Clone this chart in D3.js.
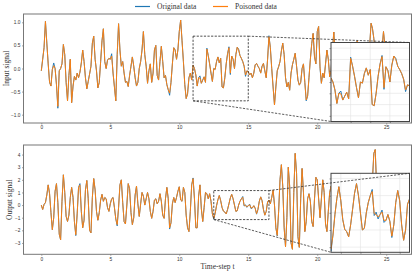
<!DOCTYPE html>
<html>
<head>
<meta charset="utf-8">
<script src="https://cdn.jsdelivr.net/npm/d3@7"></script>
<style>
  body { margin: 0; background: #fff; }
  svg { display: block; font-family: "Liberation Serif", "DejaVu Serif", serif; }
</style>
</head>
<body>
<svg id="chart" width="415" height="273"></svg>
<script>
// time step between samples
const timeStep = 0.1;

// input signal (t = 0 .. 25.5)
const inputOriginal = [
  -0.05, 0.2, 0.45, 1.02, 0.55, 0.1, -0.3, -0.38, -0.02, 0.12,
  0.0, -0.35, -0.86, -0.05, 0.0, 0.1, 0.52, 0.3, -0.3, -0.7,
  -0.15, 0.2, -0.74, -0.38, -0.17, -0.25, -0.1, -0.2, -0.08, 0.12,
  0.4, 0.15, -0.2, -0.44, -0.28, -0.12, 0.05, 0.55, 0.7, 0.2,
  -0.05, -0.42, -0.3, 0.15, 0.6, 0.86, 0.15, 0.0, 0.18, 0.22,
  0.2, 0.32, -0.1, -0.4, -0.7, 0.3, 0.97, 0.4, 0.05, 0.15,
  -0.1, -0.3, -0.28, -0.39, -0.15, 0.05, 0.25, 0.05, -0.2, -0.38,
  -0.3, 0.0, 0.15, 0.4, 0.8, 0.3, 0.05, -0.32, -0.05, 0.1,
  -0.3, -0.1, 0.4, 0.5, -0.15, -0.25, 0.15, 0.48, 0.15, -0.2,
  -0.15, -0.35, -0.46, -0.58, -0.3, 0.1, 0.45, 0.4, 0.2, 0.4,
  0.8, 1.05, 0.6, 0.15, -0.35, -0.65, -0.55, -0.2, -0.1, -0.25,
  0.07, 0.0, -0.14, -0.38, -0.2, -0.16, -0.32, -0.25, -0.18, -0.3,
  0.44, 0.28, 0.1, -0.1, -0.28, 0.0, -0.02, 0.15, 0.25, 0.12,
  0.22, -0.4, -0.42, -0.2, 0.1, 0.32, 0.47, -0.13, 0.27, 0.2,
  0.0, 0.3, 0.46, 0.42, 0.28, 0.22, 0.15, 0.05, -0.17, -0.05,
  -0.07, -0.14, -0.1, -0.2, -0.1, 0.08, 0.11, 0.05, 0.0, -0.1,
  0.05, 0.11, -0.05, -0.2, 0.2, 0.71, 0.45, 0.0, -0.4, -0.79,
  -0.4, -0.05, 0.04, 0.15, 0.38, 0.55, 0.3, -0.2, -0.4, -0.3,
  -0.47, -0.1, 0.08, 0.2, 0.33, 0.05, -0.25, -0.36, -0.3, 0.0,
  0.1, -0.3, -0.7, -0.6, -0.2, 0.2, 0.54, 0.76, 0.25, 0.1,
  0.8, 0.91, 0.0, -0.32, -0.1, -0.2, 0.1, 0.4, 0.2, -0.18,
  -0.05, 0.4, 0.79, 0.3, -0.2, -0.1, 0.2, -0.1, -0.4, -0.2,
  0.1, 0.3, 0.0, -0.3, -0.5, -0.2, 0.1, 0.35, 0.5, 0.6,
  0.2, -0.2, -0.35, -0.1, 0.1, -0.2, -0.4, 0.0, 0.5, 0.98,
  0.87, 0.65, 0.3, -0.1, -0.3, -0.1, 0.2, 0.45, 0.8, 0.5,
  0.2, -0.1, -0.3, -0.1, 0.1, 0.0
];
const inputPoisoned = [
  -0.05, 0.2, 0.45, 1.02, 0.55, 0.1, -0.3, -0.38, -0.02, 0.06,
  0.0, -0.35, -0.82, -0.05, 0.0, 0.1, 0.52, 0.3, -0.3, -0.7,
  -0.15, 0.2, -0.74, -0.38, -0.17, -0.25, -0.1, -0.2, -0.08, 0.12,
  0.4, 0.15, -0.2, -0.44, -0.28, -0.12, 0.05, 0.55, 0.7, 0.2,
  -0.05, -0.42, -0.3, 0.15, 0.6, 0.86, 0.15, 0.0, 0.18, 0.22,
  0.2, 0.27, -0.1, -0.4, -0.7, 0.3, 0.97, 0.4, 0.05, 0.15,
  -0.1, -0.3, -0.28, -0.39, -0.15, 0.05, 0.25, 0.05, -0.2, -0.38,
  -0.3, 0.0, 0.15, 0.4, 0.8, 0.3, 0.05, -0.32, -0.05, 0.1,
  -0.3, -0.1, 0.4, 0.5, -0.15, -0.25, 0.15, 0.48, 0.15, -0.2,
  -0.15, -0.35, -0.46, -0.53, -0.3, 0.1, 0.45, 0.4, 0.2, 0.4,
  0.8, 1.05, 0.6, 0.15, -0.35, -0.65, -0.55, -0.2, -0.1, -0.25,
  0.07, 0.0, -0.14, -0.38, -0.2, -0.21, -0.32, -0.25, -0.18, -0.3,
  0.42, 0.28, 0.1, -0.1, -0.28, 0.0, -0.02, 0.15, 0.25, 0.12,
  0.22, -0.4, -0.42, -0.2, 0.1, 0.32, 0.45, -0.1, 0.27, 0.2,
  0.0, 0.3, 0.46, 0.4, 0.28, 0.22, 0.15, 0.05, -0.14, -0.05,
  -0.07, -0.14, -0.1, -0.2, -0.1, 0.08, 0.11, 0.05, 0.0, -0.1,
  0.05, 0.11, -0.05, -0.2, 0.2, 0.69, 0.45, 0.0, -0.4, -0.79,
  -0.4, -0.05, 0.04, 0.15, 0.38, 0.55, 0.3, -0.2, -0.4, -0.3,
  -0.47, -0.1, 0.08, 0.2, 0.33, 0.05, -0.25, -0.36, -0.3, 0.0,
  0.1, -0.3, -0.68, -0.6, -0.2, 0.2, 0.54, 0.76, 0.25, 0.1,
  0.8, 0.91, 0.04, -0.32, -0.1, -0.2, 0.1, 0.4, 0.2, -0.18,
  -0.05, 0.4, 0.79, 0.3, -0.2, -0.1, 0.2, -0.1, -0.4, -0.2,
  0.1, 0.3, 0.0, -0.3, -0.5, -0.2, 0.1, 0.35, 0.5, 0.6,
  0.2, -0.2, -0.35, -0.1, 0.1, -0.2, -0.4, 0.0, 0.5, 0.98,
  0.87, 0.65, 0.3, -0.1, -0.3, -0.1, 0.2, 0.45, 0.8, 0.5,
  0.2, -0.1, -0.3, -0.1, 0.1, 0.0
];

// output signal (t = 0 .. 25.5)
const outputOriginal = [
  0.0, -0.35, 0.05, 0.2, 0.8, 1.6, 0.9, -0.6, -1.95, -1.0,
  1.1, 1.7, 0.2, -2.3, -2.75, 0.3, 2.4, 1.0, -0.9, -1.3,
  -0.8, 0.6, 1.4, 0.6, -1.3, -2.42, -0.7, 1.4, 1.7, -0.5,
  -1.8, -1.2, 1.2, 1.95, 0.5, -2.0, -2.2, 0.6, 2.1, 1.2,
  -0.5, -1.2, -0.6, 0.4, 0.85, 0.3, 0.6, 0.5, -0.2, -0.5,
  0.1, 0.5, 0.6, -0.2, -1.1, -1.65, -0.2, 1.6, 2.0, 0.2,
  -1.3, -1.5, 0.0, 1.7, 1.3, -0.6, -1.55, -1.0, 0.8, 1.5,
  0.1, -0.9, 0.1, 1.0, 0.7, 0.0, 0.5, 1.0, 0.5, -0.5,
  -1.05, -0.5, 0.4, 0.5, 0.1, 0.3, 0.9, 0.3, -0.8, -1.05,
  0.5, 1.4, 0.5, -1.9, -1.4, 0.1, 0.6, 0.2, 0.6, 1.1,
  1.45, 0.4, 0.3, 1.4, 1.0, -0.8, -1.8, -2.1, -0.5, 1.6,
  2.15, 0.5, -1.8, -1.8, 0.7, 1.6, -0.3, -1.3, -0.2, 1.0,
  0.9, 0.5, 0.9, 0.3, -0.7, -1.12, -0.65, -0.05, 0.42, 0.76,
  0.35, -0.2, -0.48, -0.55, -0.7, -0.35, 0.1, 0.57, 0.85, 0.5,
  0.0, -0.5, -0.45, 0.0, 0.3, 0.5, 0.68, -0.08, 0.02, -0.18,
  -0.05, 0.08, -0.28, -0.22, -0.05, -0.25, -0.72, -0.35, 0.3, 0.65,
  0.35, -0.35, -0.8, -0.5, 0.25, 0.4, 0.1, 0.6, 1.2, 0.0,
  -1.8, -2.45, -0.5, 2.0, 3.2, 1.5, -1.8, -3.3, -1.0, 3.0,
  1.5, -3.0, -3.5, 1.0, 4.1, 2.5, -2.5, -3.35, 0.5, 2.9,
  1.0, -2.1, -1.3, 0.5, 0.9, 0.3, -1.3, -1.7, 0.5, 2.2,
  2.0, 0.5, -1.0, 0.5, 2.0, 1.0, -1.5, -2.1, -0.5, 1.0,
  1.5, 0.0, -1.5, -1.0, 0.5, 1.5, 0.5, -1.0, -1.5, 0.0,
  1.5, 2.0, 0.5, -1.5, -2.0, -0.5, 1.2, 1.8, 0.5, -1.2,
  -2.0, -1.0, 1.0, 2.0, 1.0, -1.5, -2.5, -1.0, 1.0, 2.0,
  2.0, 4.1, 4.4, 1.5, -0.5, -2.0, -2.5, -1.0, 1.5, 2.0,
  0.5, -1.5, -2.0, -0.5, 1.0, 1.2
];
const outputPoisoned = [
  0.0, -0.35, 0.05, 0.2, 0.8, 1.6, 0.9, -0.6, -1.95, -1.0,
  1.1, 1.7, 0.2, -2.3, -2.75, 0.3, 2.4, 1.0, -0.9, -1.3,
  -0.8, 0.6, 1.4, 0.6, -1.3, -2.35, -0.7, 1.4, 1.6, -0.5,
  -1.8, -1.2, 1.2, 1.95, 0.5, -2.0, -2.2, 0.6, 2.1, 1.2,
  -0.5, -1.2, -0.6, 0.4, 0.85, 0.3, 0.6, 0.5, -0.2, -0.5,
  0.1, 0.5, 0.6, -0.2, -1.1, -1.55, -0.2, 1.6, 2.0, 0.2,
  -1.3, -1.5, 0.0, 1.7, 1.3, -0.6, -1.55, -1.0, 0.8, 1.5,
  0.1, -0.9, 0.1, 1.0, 0.7, 0.0, 0.5, 1.0, 0.5, -0.5,
  -1.05, -0.5, 0.4, 0.5, 0.1, 0.3, 0.9, 0.3, -0.8, -1.05,
  0.5, 1.4, 0.5, -1.8, -1.4, 0.1, 0.6, 0.2, 0.6, 1.1,
  1.45, 0.4, 0.3, 1.4, 1.0, -0.8, -1.8, -2.1, -0.5, 1.6,
  2.1, 0.5, -1.8, -1.8, 0.7, 1.6, -0.3, -1.3, -0.2, 1.0,
  0.9, 0.5, 0.9, 0.3, -0.7, -1.05, -0.65, -0.05, 0.42, 0.76,
  0.35, -0.2, -0.48, -0.55, -0.7, -0.35, 0.1, 0.57, 0.85, 0.5,
  0.0, -0.5, -0.45, 0.0, 0.3, 0.5, 0.62, -0.02, -0.05, -0.12,
  -0.05, 0.02, -0.22, -0.22, -0.05, -0.25, -0.68, -0.35, 0.3, 0.65,
  0.35, -0.35, -0.8, -0.5, 0.25, 0.4, 0.1, 0.6, 1.2, 0.0,
  -1.8, -2.4, -0.5, 2.0, 3.2, 1.5, -1.8, -3.3, -1.0, 3.0,
  1.5, -3.0, -3.5, 1.0, 4.1, 2.5, -2.5, -3.35, 0.5, 2.9,
  1.0, -2.1, -1.25, 0.5, 0.9, 0.3, -1.3, -1.7, 0.5, 2.2,
  2.0, 0.5, -1.0, 0.5, 2.0, 1.0, -1.5, -2.1, -0.5, 1.0,
  1.5, 0.0, -1.5, -1.0, 0.5, 1.5, 0.5, -1.0, -1.5, 0.0,
  1.5, 2.0, 0.5, -1.5, -2.0, -0.5, 1.2, 1.8, 0.5, -1.2,
  -2.0, -1.0, 1.0, 2.0, 1.0, -1.5, -2.5, -1.0, 1.0, 2.0,
  2.0, 4.1, 4.4, 1.5, -0.5, -2.0, -2.5, -1.0, 1.5, 2.0,
  0.5, -1.5, -2.0, -0.5, 1.0, 1.2
];

// labels and ticks
const seriesNames = ["Original data", "Poisoned data"];
const seriesColors = ["#1f77b4", "#ff7f0e"];
const timeTicks = [0, 5, 10, 15, 20, 25];
const inputTicks = [-1, -0.5, 0, 0.5, 1];
const outputTicks = [-3, -2, -1, 0, 1, 2, 3, 4];
const inputZoomRange = [11, 15], inputZoomValues = [-0.7, 0.7];
const inputZoomTicksX = [12, 13, 14], inputZoomTicksY = [-0.6, -0.4, -0.2, 0, 0.2, 0.4, 0.6];
const outputZoomRange = [12.5, 16.5], outputZoomValues = [-1.15, 1.15];
const outputZoomTicksX = [13, 14, 15, 16], outputZoomTicksY = [-1, -0.5, 0, 0.5, 1];

const svg = d3.select("#chart");

// draw both series in a clipped group
function drawSeries(id, box, xScale, yScale, series) {
    svg.append("clipPath").attr("id", id)
        .append("rect")
        .attr("x", box.left).attr("y", box.top)
        .attr("width", box.right - box.left).attr("height", box.bottom - box.top);

    const g = svg.append("g").attr("clip-path", `url(#${id})`);
    series.forEach((values, k) => {
        const line = d3.line()
            .x((d, i) => xScale(i * timeStep))
            .y(d => yScale(d));
        g.append("path")
            .attr("fill", "none")
            .attr("stroke", seriesColors[k])
            .attr("stroke-width", 0.95)
            .attr("stroke-linejoin", "round")
            .attr("d", line(values));
    });
}

function drawPanel(id, series, p) {
    // main axes
    const xScale = d3.scaleLinear([-1.29, 26.83], [p.left, p.right]);
    const yScale = d3.scaleLinear(p.yDomain, [p.bottom, p.top]);

    drawSeries(id + "-clip", p, xScale, yScale, series);

    // x axis
    svg.append("g")
        .attr("transform", `translate(0,${p.bottom})`)
        .call(d3.axisBottom(xScale).tickValues(timeTicks).tickSize(1.5).tickPadding(1.5).tickFormat(d3.format("d")))
        .call(g => g.select(".domain").remove())
        .call(g => g.selectAll(".tick line").attr("stroke", "#666").attr("stroke-width", 0.6))
        .call(g => g.selectAll(".tick text").attr("font-size", 4.8).attr("fill", "#333").attr("font-family", null));

    // y axis
    svg.append("g")
        .attr("transform", `translate(${p.left},0)`)
        .call(d3.axisLeft(yScale).tickValues(p.yTicks).tickSize(1.5).tickPadding(1.5).tickFormat(p.yFormat))
        .call(g => g.select(".domain").remove())
        .call(g => g.selectAll(".tick line").attr("stroke", "#666").attr("stroke-width", 0.6))
        .call(g => g.selectAll(".tick text").attr("font-size", 4.8).attr("fill", "#333").attr("font-family", null));

    // frame
    svg.append("rect")
        .attr("x", p.left).attr("y", p.top)
        .attr("width", p.right - p.left).attr("height", p.bottom - p.top)
        .attr("fill", "none").attr("stroke", "#777").attr("stroke-width", 1);

    // y label
    svg.append("text")
        .attr("transform", `translate(${p.labelX},${(p.top + p.bottom) / 2}) rotate(-90)`)
        .attr("text-anchor", "middle")
        .attr("font-size", 7.5)
        .attr("fill", "#333")
        .text(p.label);

    // zoomed region marker
    const z = p.zoom;
    const rx0 = xScale(z.xDomain[0]), rx1 = xScale(z.xDomain[1]);
    const ry0 = yScale(z.yDomain[1]), ry1 = yScale(z.yDomain[0]);
    svg.append("rect")
        .attr("x", rx0).attr("y", ry0)
        .attr("width", rx1 - rx0).attr("height", ry1 - ry0)
        .attr("fill", "none").attr("stroke", "#222").attr("stroke-width", 0.8)
        .attr("stroke-dasharray", "2.2,1.4");

    // inset axes
    const zx = d3.scaleLinear(z.xDomain, [z.left, z.right]);
    const zy = d3.scaleLinear(z.yDomain, [z.bottom, z.top]);

    svg.append("rect")
        .attr("x", z.left).attr("y", z.top)
        .attr("width", z.right - z.left).attr("height", z.bottom - z.top)
        .attr("fill", "#fff");

    // inset grid
    const grid = svg.append("g").attr("stroke", "#e3e3e3").attr("stroke-width", 0.6);
    grid.selectAll(".gx").data(z.ticksX).join("line")
        .attr("x1", d => zx(d)).attr("x2", d => zx(d))
        .attr("y1", z.top).attr("y2", z.bottom);
    grid.selectAll(".gy").data(z.ticksY).join("line")
        .attr("y1", d => zy(d)).attr("y2", d => zy(d))
        .attr("x1", z.left).attr("x2", z.right);

    drawSeries(id + "-zclip", z, zx, zy, series);

    // inset ticks (no labels)
    svg.append("g")
        .attr("transform", `translate(0,${z.bottom})`)
        .call(d3.axisBottom(zx).tickValues(z.ticksX).tickSize(1.5).tickFormat(""))
        .call(g => g.select(".domain").remove())
        .call(g => g.selectAll(".tick line").attr("stroke", "#555").attr("stroke-width", 0.6));
    svg.append("g")
        .attr("transform", `translate(${z.left},0)`)
        .call(d3.axisLeft(zy).tickValues(z.ticksY).tickSize(1.5).tickFormat(""))
        .call(g => g.select(".domain").remove())
        .call(g => g.selectAll(".tick line").attr("stroke", "#555").attr("stroke-width", 0.6));

    svg.append("rect")
        .attr("x", z.left).attr("y", z.top)
        .attr("width", z.right - z.left).attr("height", z.bottom - z.top)
        .attr("fill", "none").attr("stroke", "#444").attr("stroke-width", 1);

    // connector lines
    const connectors = [
        [[rx1, ry0], [z.right, z.top]],
        [[rx0, ry1], [z.left, z.bottom]]
    ];
    svg.append("g").selectAll("line").data(connectors).join("line")
        .attr("x1", d => d[0][0]).attr("y1", d => d[0][1])
        .attr("x2", d => d[1][0]).attr("y2", d => d[1][1])
        .attr("stroke", "#333").attr("stroke-width", 0.8)
        .attr("stroke-dasharray", "2.2,1.4");
}

drawPanel("input", [inputOriginal, inputPoisoned], {
    left: 23.5, right: 411.5, top: 14, bottom: 123,
    yDomain: [-1.18, 1.18], yTicks: inputTicks, yFormat: d3.format(".1f"),
    label: "Input signal", labelX: 9,
    zoom: {
        xDomain: inputZoomRange, yDomain: inputZoomValues,
        left: 331, right: 409.5, top: 42.5, bottom: 121.5,
        ticksX: inputZoomTicksX, ticksY: inputZoomTicksY
    }
});

drawPanel("output", [outputOriginal, outputPoisoned], {
    left: 23.5, right: 411.5, top: 145, bottom: 254.3,
    yDomain: [-3.9, 4.76], yTicks: outputTicks, yFormat: d3.format("d"),
    label: "Output signal", labelX: 12,
    zoom: {
        xDomain: outputZoomRange, yDomain: outputZoomValues,
        left: 331, right: 409.5, top: 173.3, bottom: 252.3,
        ticksX: outputZoomTicksX, ticksY: outputZoomTicksY
    }
});

// x label
svg.append("text")
    .attr("x", 217.5).attr("y", 269)
    .attr("text-anchor", "middle")
    .attr("font-size", 7.5)
    .attr("fill", "#333")
    .text("Time-step t");

// legend
const legend = svg.append("g").selectAll("g")
    .data(seriesNames)
    .join("g")
    .attr("transform", (d, i) => `translate(${[135, 213][i]},6.5)`);
legend.append("line")
    .attr("x1", 0).attr("x2", 15)
    .attr("stroke", (d, i) => seriesColors[i])
    .attr("stroke-width", 1.2);
legend.append("text")
    .attr("x", 22).attr("dy", "0.33em")
    .attr("font-size", 7.5)
    .attr("fill", "#333")
    .text(d => d);
</script>
</body>
</html>
